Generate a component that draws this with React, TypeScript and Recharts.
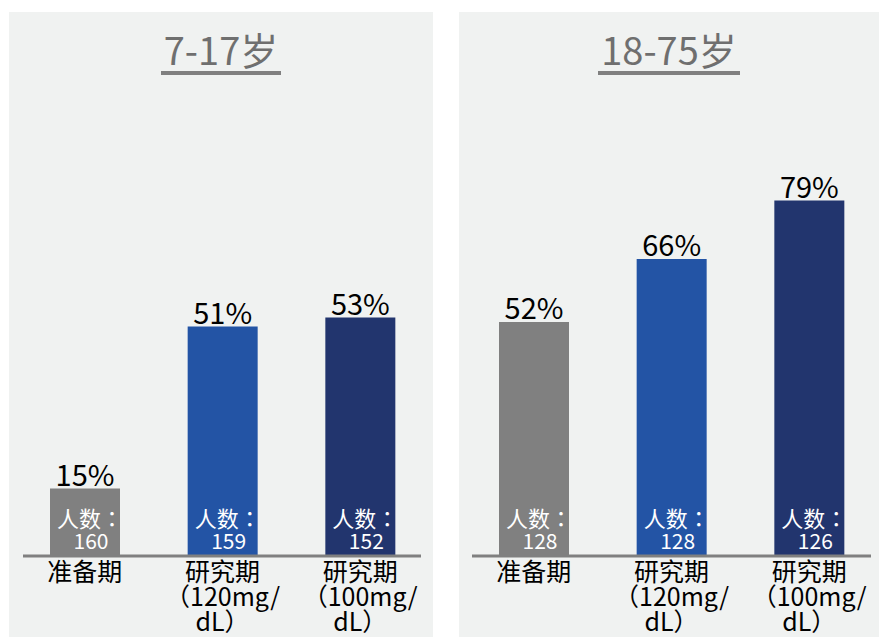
import React from "react";
import { BarChart, Bar, XAxis, YAxis, LabelList, Cell } from "recharts";

const categories = ["准备期", "研究期（120mg/dL）", "研究期（100mg/dL）"];
const tickLines = [["准备期"], ["研究期", "（120mg/", "dL）"], ["研究期", "（100mg/", "dL）"]];
const childPct = [15, 51, 53];
const childCount = [160, 159, 152];
const adultPct = [52, 66, 79];
const adultCount = [128, 128, 126];
const barColors = ["#808080", "#2354a5", "#22356e"];

const FONT = "'Noto Sans CJK SC', 'Noto Sans', sans-serif";
// centred full-width punctuation, closer to the original look
const PUNCT_FONT = "'Noto Sans CJK TC', 'Noto Sans CJK SC', sans-serif";

const build = (pct: number[], count: number[]) =>
  categories.map((name, i) => ({ name, pct: pct[i], count: count[i] }));

const childData = build(childPct, childCount);
const adultData = build(adultPct, adultCount);

// split a line so that "（" and "：" use the centred-punctuation font
const rich = (s: string) =>
  s.split(/([（：])/).filter(Boolean).map((part, i) =>
    part === "（" || part === "：" ? (
      <tspan key={i} fontFamily={PUNCT_FONT}>{part}</tspan>
    ) : (
      <tspan key={i}>{part}</tspan>
    )
  );

const AxisTick = (props: any) => {
  const { x, y, payload } = props;
  const lines = tickLines[payload.index] || [payload.value];
  return (
    <g>
      {lines.map((l: string, i: number) => (
        <text
          key={i}
          x={x}
          y={y + 25 + i * 25}
          textAnchor="middle"
          fill="#000"
          fontSize={25}
          fontFamily={FONT}
        >
          {rich(l)}
        </text>
      ))}
    </g>
  );
};

const CountLabel = (props: any) => {
  const { x, y, width, height, value } = props;
  const cx = x + width / 2;
  const bottom = y + height;
  return (
    <g fill="#fff" fontFamily={FONT} textAnchor="middle">
      <text x={cx + 5} y={bottom - 29} fontSize={22} fill="#fff">
        {rich("人数：")}
      </text>
      <text x={cx + 6} y={bottom - 7} fontSize={21} fill="#fff">
        {value}
      </text>
    </g>
  );
};

function Panel({ title, data, left, width, margin, padding }: any) {
  return (
    <div
      style={{
        position: "absolute",
        left,
        top: 12,
        width,
        height: 625,
        background: "#f0f2f1",
      }}
    >
      <div
        style={{
          position: "absolute",
          top: 17,
          left: 0,
          width: "100%",
          textAlign: "center",
        }}
      >
        <span
          style={{
            display: "inline-block",
            fontFamily: FONT,
            fontSize: 38,
            lineHeight: "40px",
            color: "#6f6f6f",
            padding: "0 3px 2px",
            borderBottom: "4px solid #808080",
          }}
        >
          {title}
        </span>
      </div>
      <BarChart
        width={width}
        height={625}
        data={data}
        margin={margin}
        style={{ fontFamily: FONT }}
      >
        <XAxis
          dataKey="name"
          axisLine={{ stroke: "#808080", strokeWidth: 3 }}
          tickLine={false}
          tickSize={0}
          tickMargin={0}
          height={81}
          interval={0}
          padding={padding}
          tick={<AxisTick />}
        />
        <YAxis hide domain={[0, 100]} />
        <Bar dataKey="pct" barSize={70} isAnimationActive={false}>
          {data.map((_: any, i: number) => (
            <Cell key={i} fill={barColors[i]} />
          ))}
          <LabelList
            dataKey="pct"
            position="top"
            offset={3}
            formatter={(v: any) => `${v}%`}
            fill="#000"
            fontSize={29}
            fontFamily={FONT}
          />
          <LabelList dataKey="count" content={<CountLabel />} />
        </Bar>
      </BarChart>
    </div>
  );
}

export default function App() {
  return (
    <div style={{ position: "fixed", left: 0, top: 0, width: 879, height: 637, background: "#fff" }}>
      <Panel
        title="7-17岁"
        data={childData}
        left={9}
        width={424}
        margin={{ top: 94, right: 12, bottom: 0, left: 14 }}
        padding={{ left: -7, right: -8 }}
      />
      <Panel
        title="18-75岁"
        data={adultData}
        left={459}
        width={420}
        margin={{ top: 94, right: 8, bottom: 0, left: 13 }}
        padding={{ left: -7, right: -7 }}
      />
    </div>
  );
}
